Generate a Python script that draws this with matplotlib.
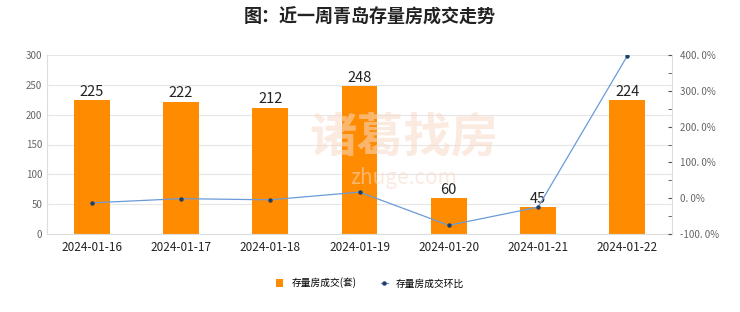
import matplotlib.pyplot as plt
from matplotlib.ticker import FuncFormatter, MultipleLocator

plt.rcParams['font.family'] = ['Noto Sans CJK SC', 'DejaVu Sans']

dates = ["2024-01-16", "2024-01-17", "2024-01-18", "2024-01-19", "2024-01-20", "2024-01-21", "2024-01-22"]
deals = [225, 222, 212, 248, 60, 45, 224]
ratio = [-13.0, -1.3, -4.5, 17.0, -75.8, -25.0, 397.8]  # percent

fig = plt.figure(figsize=(7.4, 3.12), dpi=100)
ax = fig.add_axes([47 / 740, 1 - 234 / 312, 625 / 740, 179 / 312])
x = range(len(dates))

bars = ax.bar(x, deals, width=0.4, color="#ff8c00", zorder=2, label="存量房成交(套)")
for b, v in zip(bars, deals):
    ax.text(b.get_x() + b.get_width() / 2, v + 2, str(v), ha="center", va="bottom",
            fontsize=10.5, color="#222222", zorder=5)

ax.set_xlim(-0.5, len(dates) - 0.5)
ax.set_ylim(0, 300)
ax.yaxis.set_major_locator(MultipleLocator(50))
ax.set_xticks(list(x))
ax.set_xticklabels(dates)
ax.grid(axis="y", color="#e6e6e6", linewidth=0.8, zorder=0)
for s in ["top", "right"]:
    ax.spines[s].set_visible(False)
for s in ["left", "bottom"]:
    ax.spines[s].set_color("#dddddd")
ax.tick_params(axis="y", length=0, labelsize=7, labelcolor="#666666")
ax.tick_params(axis="x", length=0, labelsize=8.5, labelcolor="#222222", pad=5)

ax2 = ax.twinx()
ax2.plot(list(x), ratio, color="#6a9bd8", linewidth=0.9, marker="o", markersize=2.2,
         markerfacecolor="#1f3f66", markeredgecolor="#1f3f66", zorder=4, label="存量房成交环比")
ax2.set_ylim(-100, 400)
ax2.yaxis.set_major_locator(MultipleLocator(100))
ax2.yaxis.set_minor_locator(MultipleLocator(50))
ax2.yaxis.set_major_formatter(FuncFormatter(lambda v, p: f"{v:.1f}%".replace(".", ". ")))
for s in ["top", "left", "bottom"]:
    ax2.spines[s].set_visible(False)
ax2.spines["right"].set_color("#dddddd")
ax2.tick_params(axis="y", which="both", length=3, color="#555555", direction="in",
                labelsize=7, labelcolor="#666666", pad=6)

# watermark
fig.text(0.545, 0.56, "诸葛找房", fontsize=34, color="#f6d9c8", ha="center", va="center",
         alpha=0.55, fontweight="bold", zorder=0)
fig.text(0.545, 0.43, "zhuge.com", fontsize=15, color="#f6d9c8", ha="center", va="center",
         alpha=0.55, zorder=0)

fig.suptitle("图：近一周青岛存量房成交走势", x=0.5, y=0.975, fontsize=13, fontweight="bold",
             color="#222222")

h1, l1 = ax.get_legend_handles_labels()
h2, l2 = ax2.get_legend_handles_labels()
fig.legend(h1 + h2, l1 + l2, loc="center", bbox_to_anchor=(0.5, 1 - 283 / 312), ncol=2,
           frameon=False, fontsize=7, handlelength=0.8, handleheight=0.8, columnspacing=2.5)

fig.savefig("out.png", dpi=100)
